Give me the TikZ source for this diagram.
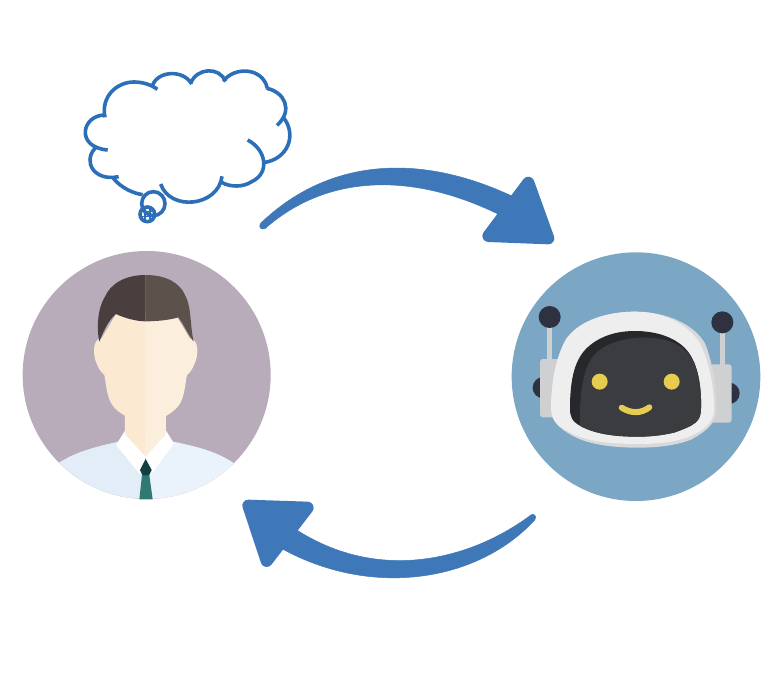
\documentclass[tikz,border=0pt]{standalone}
\definecolor{cloudblue}{HTML}{2A6FB8}
\definecolor{arrowblue}{HTML}{3F78B8}
\definecolor{personbg}{HTML}{B8ACBA}
\definecolor{shirtl}{HTML}{E2EDF8}
\definecolor{shirtr}{HTML}{EAF2FC}
\definecolor{skinl}{HTML}{FBE9D2}
\definecolor{skinr}{HTML}{FBEEDC}
\definecolor{hairl}{HTML}{4A3F3E}
\definecolor{hairr}{HTML}{5D514C}
\definecolor{tiedark}{HTML}{123F40}
\definecolor{tielight}{HTML}{2E7A72}
\definecolor{robotbg}{HTML}{7BA6C4}
\definecolor{ball}{HTML}{2E3140}
\definecolor{metal}{HTML}{CFD0D2}
\definecolor{helmet}{HTML}{EEEEEE}
\definecolor{helmetshade}{HTML}{D8D9DA}
\definecolor{visordark}{HTML}{27282B}
\definecolor{visor}{HTML}{3B3C40}
\definecolor{smile}{HTML}{E6CD4F}
\tikzset{
  zoomed/.style={x=0.33333pt,y=-0.33333pt},
  cloudline/.style={draw=cloudblue,line width=3.6pt},
  bigarrow/.style={fill=arrowblue,draw=arrowblue,line join=round},
}
\def\visorpath{(195,490) .. controls (195,400) and (210,340) .. (250,305) .. controls (290,270) and (340,258) .. (390,258) .. controls (450,258) and (510,275) .. (545,315) .. controls (580,355) and (590,430) .. (588,490) .. controls (588,530) and (570,540) .. (510,562) .. controls (470,572) and (430,575) .. (400,575) .. controls (340,575) and (280,570) .. (230,545) .. controls (200,530) and (195,515) .. (195,490) -- cycle}
\begin{document}
\begin{tikzpicture}[x=1pt,y=-1pt]
\useasboundingbox (0,0) rectangle (782,698);
\fill[white] (0,0) rectangle (782,698);

% thought cloud
\begin{scope}[xshift=70pt,yshift=-60pt,zoomed]
\draw[cloudline] (105,172) .. controls (92,110) and (140,66) .. (192,66) .. controls (220,66) and (245,75) .. (262,88);
\draw[cloudline] (248,75) .. controls (265,32) and (340,28) .. (365,72);
\draw[cloudline] (362,70) .. controls (380,22) and (450,20) .. (466,64);
\draw[cloudline] (460,64) .. controls (490,20) and (578,20) .. (592,85);
\draw[cloudline] (590,85) .. controls (642,95) and (672,150) .. (621,196);
\draw[cloudline] (640,172) .. controls (682,225) and (654,298) .. (580,308);
\draw[cloudline] (533,240) .. controls (590,270) and (600,340) .. (545,365) .. controls (520,382) and (480,382) .. (455,367);
\draw[cloudline] (456,349) .. controls (445,440) and (300,455) .. (272,372);
\draw[cloudline] (130,355) .. controls (155,385) and (190,400) .. (218,404);
\draw[cloudline] (75,265) .. controls (38,305) and (72,365) .. (146,350);
\draw[cloudline] (105,165) .. controls (35,165) and (15,262) .. (113,270);
\draw[cloudline] (250,431) ellipse [x radius=35,y radius=36];
\draw[cloudline] (232,463) circle [radius=22];
\draw[cloudline,line width=1.5pt] (214,455) -- (250,455) (214,470) -- (250,470) (225,445) -- (225,481) (240,445) -- (240,481);
\end{scope}

% person
\begin{scope}[xshift=10pt,yshift=-240pt,zoomed]
\fill[personbg] (410,405) circle [radius=372];
\begin{scope}
\clip (410,405) circle [radius=372];
\fill[shirtl] (130,680) .. controls (190,635) and (260,620) .. (325,605) -- (407,650) -- (407,800) -- (130,800) -- cycle;
\fill[shirtr] (685,680) .. controls (630,635) and (560,620) .. (490,605) -- (407,650) -- (407,800) -- (685,800) -- cycle;
\end{scope}
\fill[white] (345,572) -- (318,615) -- (390,702) -- (407,650) -- (425,702) -- (492,610) -- (468,572) -- cycle;
\fill[skinl] (345,500) -- (345,582) -- (407,650) -- (407.5,500) -- cycle;
\fill[skinr] (468,500) -- (468,582) -- (407,650) -- (407,500) -- cycle;
\fill[skinl] (407.5,220) -- (318,222) -- (275,295) .. controls (248,295) and (246,345) .. (262,375) .. controls (270,395) and (278,400) .. (283,405) .. controls (290,440) and (290,480) .. (315,505) .. controls (340,530) and (380,546) .. (407.5,546) -- cycle;
\fill[skinr] (407,220) -- (496,222) -- (539,295) .. controls (566,295) and (568,345) .. (552,375) .. controls (544,395) and (536,400) .. (531,405) .. controls (524,440) and (524,480) .. (499,505) .. controls (474,530) and (434,546) .. (407,546) -- cycle;
\fill[hairl] (407,105) .. controls (340,105) and (300,135) .. (285,170) .. controls (265,200) and (258,260) .. (268,305) .. controls (280,275) and (295,240) .. (318,222) .. controls (345,235) and (380,244) .. (407,244) -- cycle;
\fill[hairr] (407,105) .. controls (470,105) and (510,130) .. (525,165) .. controls (545,200) and (540,260) .. (551,305) .. controls (535,285) and (522,255) .. (505,232) .. controls (480,240) and (440,244) .. (407,244) -- cycle;
\fill[tielight] (396,705) -- (388,778) -- (428,778) -- (418,705) -- cycle;
\fill[tiedark] (407,657) -- (390,690) -- (398,706) -- (417,706) -- (425,690) -- cycle;
\end{scope}

% robot
\begin{scope}[xshift=505pt,yshift=-245pt,zoomed]
\fill[robotbg] (393,395) circle [radius=373];
\fill[ball] (115,428) circle [radius=32];
\fill[ball] (672,445) circle [radius=32];
\fill[metal] (126,245) rectangle (140,350);
\fill[metal] (646,260) rectangle (660,365);
\fill[ball] (134,216) circle [radius=33];
\fill[ball] (652,232) circle [radius=33];
\fill[metal,rounded corners=2.7pt] (105,342) rectangle (175,517);
\fill[metal,rounded corners=2.7pt] (615,358) rectangle (680,533);
\fill[helmetshade] (138,480) .. controls (140,400) and (155,330) .. (185,280) .. controls (225,225) and (310,200) .. (390,200) .. controls (480,200) and (565,235) .. (600,295) .. controls (622,350) and (634,420) .. (634,490) .. controls (634,525) and (620,550) .. (560,583) .. controls (520,600) and (460,608) .. (400,608) .. controls (320,608) and (240,598) .. (190,565) .. controls (150,540) and (137,520) .. (138,480) -- cycle;
\fill[helmet] (138,480) .. controls (140,400) and (155,330) .. (185,280) .. controls (225,225) and (310,200) .. (390,200) .. controls (480,200) and (550,240) .. (585,295) .. controls (612,350) and (626,420) .. (628,490) .. controls (628,520) and (612,548) .. (560,572) .. controls (520,590) and (460,597) .. (400,597) .. controls (320,597) and (240,590) .. (190,560) .. controls (150,540) and (137,520) .. (138,480) -- cycle;
\fill[visordark] \visorpath;
\begin{scope}
\clip \visorpath;
\fill[visor] (225,520) .. controls (225,420) and (240,350) .. (280,318) .. controls (320,285) and (390,275) .. (430,278) .. controls (490,280) and (540,300) .. (565,350) -- (620,350) -- (620,600) -- (225,600) -- cycle;
\end{scope}
\fill[smile] (284,410) circle [radius=24];
\fill[smile] (500,410) circle [radius=24];
\draw[smile,line width=6pt,line cap=round] (350,488) .. controls (378,506) and (408,506) .. (433,487);
\end{scope}

% top arrow
\begin{scope}[xshift=240pt,yshift=-160pt,zoomed]
\fill[bigarrow,line width=0.5pt] (62,190) .. controls (250,8) and (520,-35) .. (830,115) -- (790,170) .. controls (520,33) and (260,42) .. (75,206) -- cycle;
\fill[arrowblue] (68,198) circle [radius=10];
\filldraw[bigarrow,line width=12pt] (865,68) -- (925,235) -- (745,228) -- cycle;
\end{scope}

% bottom arrow
\begin{scope}[xshift=235pt,yshift=-495pt,zoomed]
\fill[bigarrow,line width=0.5pt] (888,60) .. controls (700,200) and (420,265) .. (170,95) -- (130,155) .. controls (400,310) and (725,265) .. (900,74) -- cycle;
\fill[arrowblue] (893,67) circle [radius=10];
\filldraw[bigarrow,line width=12pt] (40,32) -- (218,38) -- (95,198) -- cycle;
\end{scope}
\end{tikzpicture}
\end{document}
